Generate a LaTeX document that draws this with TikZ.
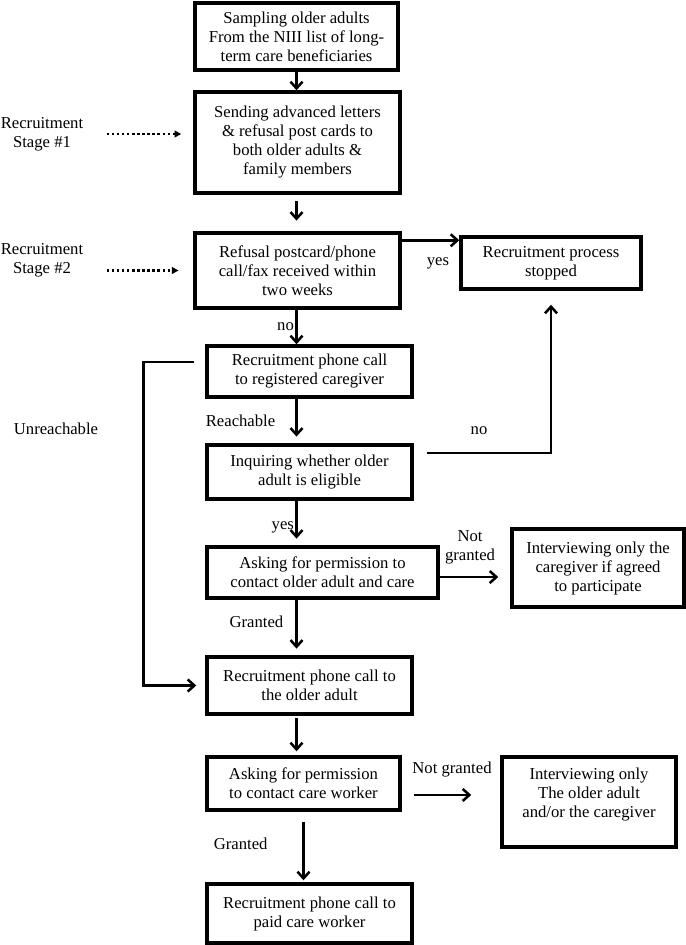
\documentclass[tikz,border=0pt]{standalone}
\usepackage{fontspec}
\setmainfont{Liberation Serif}
\usetikzlibrary{positioning,arrows.meta}

\begin{document}
\begin{tikzpicture}[x=0.75pt, y=-0.75pt, >={Straight Barb[length=5pt,width=9pt]},
    font=\fontsize{12.5}{14.25}\selectfont,
    stepbox/.style={draw, line width=2.6pt, align=center, inner sep=2pt},
    arr/.style={->, line width=1.9pt},
    stagearr/.style={-{Triangle[length=5pt,width=5pt]}, dotted, line width=1.8pt},
    lbl/.style={inner sep=1pt, align=center}]
  \useasboundingbox (0,0) rectangle (685,945);

  % main column
  \node[stepbox, minimum width=152.25pt, minimum height=50.25pt] (sampling) at (296.5,36.5)
    {Sampling older adults\\From the NIII list of long-\\term care beneficiaries};
  \node[stepbox, minimum width=153.75pt, minimum height=75.75pt] (letters) at (297.5,142.5)
    {Sending advanced letters\\\& refusal post cards to\\both older adults \&\\family members};
  \node[stepbox, minimum width=153.75pt, minimum height=56.25pt] (refusal) at (297.5,270.5)
    {Refusal postcard/phone\\call/fax received within\\two weeks};
  \node[stepbox, minimum width=153.75pt, minimum height=38.25pt] (callcg) at (309.5,371.5)
    {Recruitment phone call\\to registered caregiver};
  \node[stepbox, minimum width=153.75pt, minimum height=40.5pt] (eligible) at (309.5,472)
    {Inquiring whether older\\adult is eligible};
  \node[stepbox, minimum width=173.25pt, minimum height=38.25pt] (permoa) at (322.5,572.5)
    {Asking for permission to\\contact older adult and care};
  \node[stepbox, minimum width=153.75pt, minimum height=42.75pt] (calloa) at (309.5,685.5)
    {Recruitment phone call to\\the older adult};
  \node[stepbox, minimum width=144.75pt, minimum height=39.75pt] (permcw) at (303.5,783.5)
    {Asking for permission\\to contact care worker};
  \node[stepbox, minimum width=153.75pt, minimum height=44.25pt] (callcw) at (309.5,913.5)
    {Recruitment phone call to\\paid care worker};

  % side boxes
  \node[stepbox, minimum width=135pt, minimum height=39pt] (stopped) at (551,263)
    {Recruitment process\\stopped};
  \node[stepbox, minimum width=129pt, minimum height=58.5pt] (onlycg) at (598,568)
    {Interviewing only the\\caregiver if agreed\\to participate};
  \node[stepbox, minimum width=130.5pt, minimum height=67.5pt] (onlyoa) at (589,802)
    {Interviewing only\\The older adult\\and/or the caregiver\\~};

  % stage labels
  \node[lbl] (stage1) at (42,134) {Recruitment\\Stage \#1};
  \node[lbl] (stage2) at (42,260) {Recruitment\\Stage \#2};
  \draw[stagearr, shorten <=16.5pt, shorten >=9pt] (stage1.east) -- (stage1.east -| letters.west);
  \draw[stagearr, shorten <=16.5pt, shorten >=11pt] (stage2.east |- refusal.west) -- (refusal.west);

  \coordinate (axis) at (sampling.south);

  \draw[arr] (sampling.south) -- (sampling.south |- letters.north);
  \draw[arr, shorten <=5pt, shorten >=8pt] (letters.south -| axis) -- (refusal.north -| axis);
  \draw[arr] (refusal.south -| axis) -- node[lbl, left] {no} (callcg.north -| axis);
  \draw[arr, shorten >=5pt] (callcg.south -| axis) -- node[lbl, left=14pt] {Reachable} (eligible.north -| axis);
  \draw[arr, shorten >=5pt] (eligible.south -| axis) -- node[lbl, left, pos=0.6] {yes} (permoa.north -| axis);
  \draw[arr, shorten >=5pt] (permoa.south -| axis) -- node[lbl, left=8pt, pos=0.4] {Granted} (calloa.north -| axis);
  \draw[arr, shorten <=2pt, shorten >=3pt] (calloa.south -| axis) -- (permcw.north -| axis);
  \draw[arr, shorten <=7.5pt, shorten >=1.5pt] (permcw.south) -- node[lbl, left=25pt, pos=0.45] {Granted} (permcw.south |- callcw.north);

  % yes: stopped
  \coordinate (yesfrom) at ([yshift=-6.75pt]refusal.north east);
  \draw[arr] (yesfrom) -- (yesfrom -| stopped.west);
  \node[lbl] (yeslbl) at (438,263) {yes};

  % unreachable
  \coordinate (unreach) at ([xshift=-8.25pt,yshift=7.1pt]callcg.west);
  \draw[arr, shorten >=6.75pt] (unreach) -- ++(-51,0) |- (calloa.west);
  \node[lbl] (unreachlbl) at (56,429) {Unreachable};

  % not eligible
  \coordinate (nofrom) at ([xshift=9.75pt,yshift=14.25pt]eligible.east);
  \draw[arr, shorten >=10.5pt] (nofrom) -| (stopped.south);
  \node[lbl] (nolbl) at (479,431) {no};

  % not granted
  \coordinate (ngone) at ([yshift=-3.4pt]permoa.east);
  \draw[arr, shorten >=9pt] (ngone) -- (ngone -| onlycg.west);
  \node[lbl] (ngonelbl) at (470,547) {Not\\granted};
  \coordinate (ngtwo) at ([xshift=9pt,yshift=-8.6pt]permcw.east);
  \draw[arr, shorten >=21.75pt] (ngtwo) -- (ngtwo -| onlyoa.west);
  \node[lbl] (ngtwolbl) at (452,770) {Not granted};
\end{tikzpicture}
\end{document}
